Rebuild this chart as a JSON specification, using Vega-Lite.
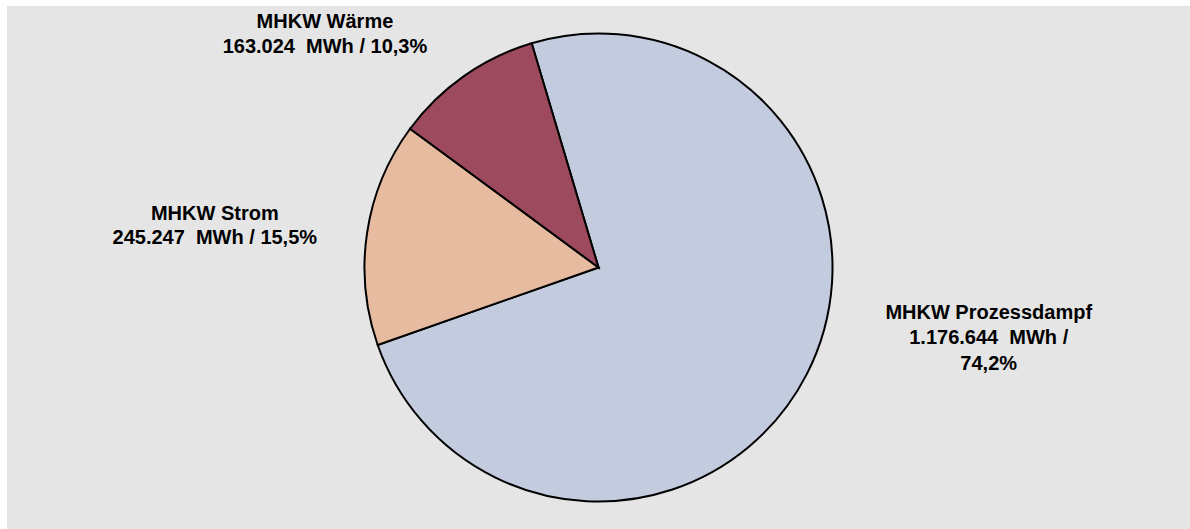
{
  "$schema": "https://vega.github.io/schema/vega-lite/v6.json",
  "width": 1183,
  "height": 523,
  "autosize": {"type": "none"},
  "padding": {"left": 7, "top": 6, "right": 0, "bottom": 0},
  "background": "white",
  "view": {"fill": "#e5e5e5", "stroke": null},
  "data": {
    "values": [
      {"kategorie": "MHKW Prozessdampf", "mwh": 1176644, "reihenfolge": 1, "label": "MHKW Prozessdampf\n1.176.644\u00a0 MWh /\n74,2%"},
      {"kategorie": "MHKW Strom", "mwh": 245247, "reihenfolge": 2, "label": "MHKW Strom\n245.247\u00a0 MWh / 15,5%"},
      {"kategorie": "MHKW Wärme", "mwh": 163024, "reihenfolge": 3, "label": "MHKW Wärme\n163.024\u00a0 MWh / 10,3%"}
    ]
  },
  "encoding": {
    "theta": {"field": "mwh", "type": "quantitative", "stack": true, "scale": {"range": [-0.2897, 5.9935]}},
    "order": {"field": "reihenfolge", "type": "quantitative", "sort": "ascending"}
  },
  "layer": [
    {
      "mark": {"type": "arc", "outerRadius": 234, "stroke": "black", "strokeWidth": 2},
      "encoding": {
        "color": {
          "field": "kategorie",
          "type": "nominal",
          "scale": {
            "domain": ["MHKW Prozessdampf", "MHKW Strom", "MHKW Wärme"],
            "range": ["#c3cbdf", "#e6bba0", "#9e4a5e"]
          },
          "legend": null
        }
      }
    },
    {
      "mark": {"type": "text", "radius": 300, "dx": -101, "dy": 0, "lineBreak": "\n", "font": "Liberation Sans", "fontSize": 20, "fontWeight": "bold", "lineHeight": 25, "align": "center", "baseline": "middle", "color": "black"},
      "encoding": {
        "text": {"condition": {"test": "datum.kategorie === 'MHKW Wärme'", "field": "label", "type": "nominal"}, "value": ""}
      }
    },
    {
      "mark": {"type": "text", "radius": 300, "dx": -87, "dy": -9, "lineBreak": "\n", "font": "Liberation Sans", "fontSize": 20, "fontWeight": "bold", "lineHeight": 24, "align": "center", "baseline": "middle", "color": "black"},
      "encoding": {
        "text": {"condition": {"test": "datum.kategorie === 'MHKW Strom'", "field": "label", "type": "nominal"}, "value": ""}
      }
    },
    {
      "mark": {"type": "text", "radius": 300, "dx": 123, "dy": -91, "lineBreak": "\n", "font": "Liberation Sans", "fontSize": 20, "fontWeight": "bold", "lineHeight": 25.5, "align": "center", "baseline": "middle", "color": "black"},
      "encoding": {
        "text": {"condition": {"test": "datum.kategorie === 'MHKW Prozessdampf'", "field": "label", "type": "nominal"}, "value": ""}
      }
    }
  ]
}
